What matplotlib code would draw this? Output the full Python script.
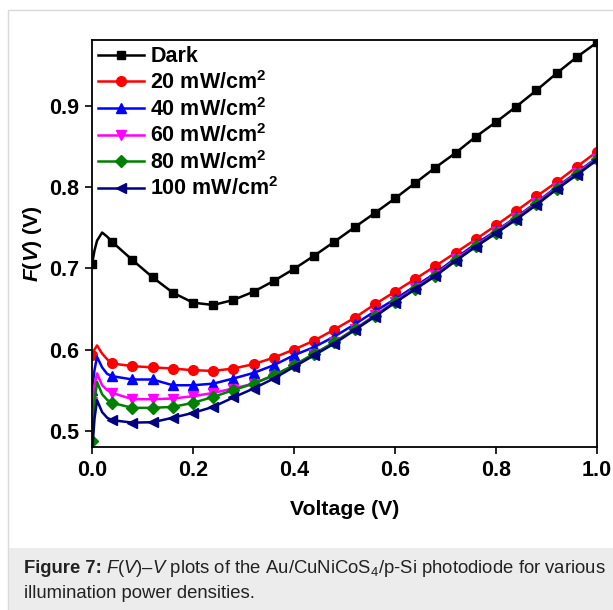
import matplotlib
matplotlib.use("Agg")
import matplotlib.pyplot as plt
from matplotlib.patches import Rectangle

plt.rcParams['font.family'] = ['Liberation Sans', 'DejaVu Sans']
plt.rcParams['mathtext.fontset'] = 'custom'
plt.rcParams['mathtext.rm'] = 'Liberation Sans'
plt.rcParams['mathtext.it'] = 'Liberation Sans:italic:bold'
plt.rcParams['mathtext.bf'] = 'Liberation Sans:bold'
plt.rcParams['mathtext.sf'] = 'Liberation Sans:italic'

# ---- data ----
voltage = [0.0, 0.005, 0.01, 0.02, 0.03,
           0.04, 0.08, 0.12, 0.16, 0.20, 0.24, 0.28, 0.32, 0.36, 0.40,
           0.44, 0.48, 0.52, 0.56, 0.60, 0.64, 0.68, 0.72, 0.76, 0.80,
           0.84, 0.88, 0.92, 0.96, 1.00]

dark = [0.705, 0.722, 0.734, 0.744, 0.739,
        0.7324, 0.7102, 0.6889, 0.670, 0.6577, 0.6548, 0.661, 0.6712, 0.6844, 0.6992,
        0.7155, 0.7327, 0.7505, 0.768, 0.786, 0.805, 0.824, 0.842, 0.862, 0.880,
        0.899, 0.919, 0.940, 0.960, 0.978]

p20 = [0.593, 0.600, 0.605, 0.595, 0.588,
       0.5828, 0.5795, 0.578, 0.5766, 0.5745, 0.5737, 0.5766, 0.582, 0.590, 0.600,
       0.611, 0.6246, 0.639, 0.6557, 0.6712, 0.6868, 0.7028, 0.7192, 0.7357, 0.7528,
       0.7705, 0.7885, 0.806, 0.825, 0.8435]

p40 = [0.550, 0.575, 0.591, 0.578, 0.570,
       0.5672, 0.5631, 0.5631, 0.556, 0.556, 0.558, 0.5643, 0.5712, 0.5807, 0.593,
       0.603, 0.616, 0.631, 0.647, 0.662, 0.678, 0.694, 0.7125, 0.730, 0.746,
       0.763, 0.781, 0.800, 0.818, 0.836]

p60 = [0.535, 0.556, 0.5705, 0.556, 0.550,
       0.5466, 0.5388, 0.5388, 0.5397, 0.5425, 0.5466, 0.552, 0.558, 0.568, 0.580,
       0.594, 0.609, 0.625, 0.642, 0.659, 0.676, 0.692, 0.711, 0.728, 0.745,
       0.762, 0.780, 0.799, 0.817, 0.835]

p80 = [0.488, 0.535, 0.560, 0.545, 0.538,
       0.5343, 0.5282, 0.5282, 0.5294, 0.5343, 0.5417, 0.550, 0.558, 0.5684, 0.5807,
       0.595, 0.609, 0.625, 0.641, 0.658, 0.675, 0.691, 0.710, 0.727, 0.744,
       0.761, 0.779, 0.798, 0.816, 0.834]

p100 = [0.472, 0.515, 0.5376, 0.523, 0.516,
        0.513, 0.510, 0.5105, 0.516, 0.522, 0.5294, 0.541, 0.552, 0.5643, 0.5786,
        0.593, 0.6074, 0.6238, 0.6404, 0.6577, 0.6741, 0.6905, 0.709, 0.7266, 0.743,
        0.760, 0.778, 0.7972, 0.8148, 0.8333]

labels = ["Dark",
          r"20 mW/cm$^{\mathbf{2}}$", r"40 mW/cm$^{\mathbf{2}}$", r"60 mW/cm$^{\mathbf{2}}$",
          r"80 mW/cm$^{\mathbf{2}}$", r"100 mW/cm$^{\mathbf{2}}$"]
series = [dark, p20, p40, p60, p80, p100]
colors = ["#000000", "#ff0000", "#0000ff", "#ff00ff", "#008000", "#000080"]
markers = ["s", "o", "^", "v", "D", "<"]
msizes = [6, 7, 7, 7, 6, 7]

xticks = [0.0, 0.2, 0.4, 0.6, 0.8, 1.0]
yticks = [0.5, 0.6, 0.7, 0.8, 0.9]

# ---- figure ----
fig = plt.figure(figsize=(6.13, 6.10), dpi=100)
W, H = 613, 610

# outer light frame and caption background
fig.patches.append(Rectangle((8 / W, 0), 1.0, (H - 10) / H, transform=fig.transFigure,
                             facecolor='white', edgecolor='#d9d9d9', linewidth=1.0, zorder=-2))
fig.patches.append(Rectangle((8.5 / W, 0), 1.0, (H - 548) / H, transform=fig.transFigure,
                             facecolor='#ececec', edgecolor='none', zorder=-1))

ax = fig.add_axes([92 / W, 1 - 447 / H, (597 - 92) / W, (447 - 40) / H])
ax.set_zorder(3)

mark_idx = [0] + list(range(5, len(voltage)))
for y, lab, c, m, ms in zip(series, labels, colors, markers, msizes):
    ax.plot(voltage, y, color=c, marker=m, markersize=ms, linewidth=1.8,
            markevery=mark_idx, label=lab)

ax.set_xlim(0.0, 1.0)
ax.set_ylim(0.48, 0.981)
ax.set_xticks(xticks)
ax.set_yticks(yticks)
ax.set_xticklabels([f"{v:.1f}" for v in xticks])
ax.set_yticklabels([f"{v:.1f}" for v in yticks])
ax.tick_params(direction='out', length=5, width=1.2, labelsize=15.5, pad=4)
for lab in ax.get_xticklabels() + ax.get_yticklabels():
    lab.set_fontweight('bold')
for s in ax.spines.values():
    s.set_linewidth(1.3)

ax.set_xlabel("Voltage (V)", fontsize=15.3, fontweight='bold', labelpad=14)
ax.set_ylabel(r"$\mathit{F}$($\mathit{V}$) (V)", fontsize=15.3, fontweight='bold', labelpad=4)

leg = ax.legend(loc='upper left', frameon=False, fontsize=15.5, handlelength=2.1,
                handletextpad=0.3, labelspacing=0.17, borderaxespad=0.2,
                borderpad=0.1)
for t in leg.get_texts():
    t.set_fontweight('bold')

# caption
t1 = fig.text(24 / W, 1 - 573 / H, "Figure 7:", fontsize=13.3, fontweight='bold',
              va='baseline', ha='left', color='#222222')
fig.canvas.draw()
bb = t1.get_window_extent()
fig.text((bb.x1 + 4) / W, 1 - 573 / H,
         r"$\mathsf{F}$($\mathsf{V}$)–$\mathsf{V}$ plots of the Au/CuNiCoS$_{4}$/p-Si photodiode for various",
         fontsize=13.3, va='baseline', ha='left', color='#222222')
fig.text(24 / W, 1 - 598 / H, "illumination power densities.",
         fontsize=13.3, va='baseline', ha='left', color='#222222')

fig.savefig("out.png", dpi=100)
